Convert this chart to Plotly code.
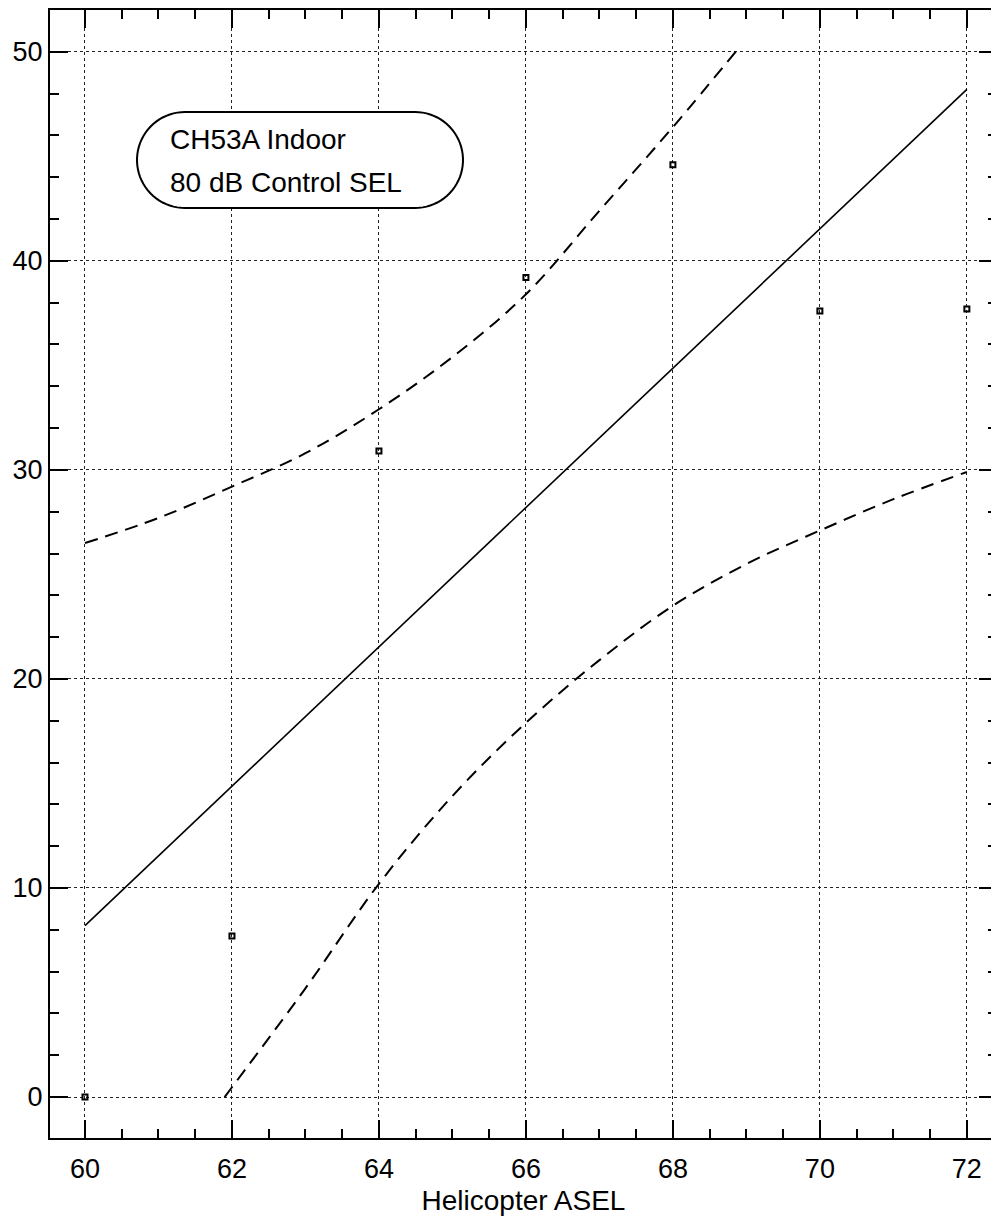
import numpy as np
import plotly.graph_objects as go

# Observed data points
asel = [60, 62, 64, 66, 68, 70, 72]
response = [0.0, 7.7, 30.9, 39.2, 44.6, 37.6, 37.7]

# Regression line
fit_x = [60, 72]
fit_y = [8.2, 48.2]

# Upper confidence band
upper_x = [60, 61, 62, 63, 64, 65, 66, 67, 68, 68.9]
upper_y = [26.5, 27.7, 29.2, 30.8, 32.9, 35.4, 38.4, 42.4, 46.4, 50.2]

# Lower confidence band
lower_x = [61.9, 63, 64, 65, 66, 67, 68, 69, 70, 71, 72]
lower_y = [0.0, 5.2, 10.2, 14.4, 17.9, 20.9, 23.5, 25.5, 27.1, 28.6, 29.9]

x_ticks = [60, 62, 64, 66, 68, 70, 72]
y_ticks = [0, 10, 20, 30, 40, 50]

label_lines = ["CH53A Indoor", "80 dB Control SEL"]
x_title = "Helicopter ASEL"

FONT = "Liberation Sans, Arial, sans-serif"

fig = go.Figure()
dash_style = "13px,8px"
fig.add_trace(go.Scatter(x=upper_x, y=upper_y, mode="lines",
                         line=dict(color="black", width=2, dash=dash_style, shape="spline"),
                         showlegend=False, hoverinfo="skip"))
fig.add_trace(go.Scatter(x=lower_x, y=lower_y, mode="lines",
                         line=dict(color="black", width=2, dash=dash_style, shape="spline"),
                         showlegend=False, hoverinfo="skip"))
fig.add_trace(go.Scatter(x=fit_x, y=fit_y, mode="lines",
                         line=dict(color="black", width=1.6),
                         showlegend=False))
fig.add_trace(go.Scatter(x=asel, y=response, mode="markers",
                         marker=dict(symbol="square-open", size=5, color="black",
                                     line=dict(width=2, color="black")),
                         showlegend=False))

W, H = 999, 1223
OFF = 8  # page body margin
# plot area in page pixels
PL, PR, PT, PB = 50, 997, 10, 1138
L = PL - OFF
T = PT - OFF
R = W - (PR - OFF)
B = H - (PB - OFF)
pw, ph = PR - PL, PB - PT

def to_paper(px, py):
    return (px - PL) / pw, (PB - py) / ph

# stadium-shaped label box (page pixel geometry -> paper)
left, right, top, bottom = 137, 463, 112, 208
r = (bottom - top) / 2
cy = (top + bottom) / 2
pts = []
for a in np.linspace(-np.pi / 2, np.pi / 2, 40):
    pts.append((right - r + r * np.cos(a), cy + r * np.sin(a)))
for a in np.linspace(np.pi / 2, 3 * np.pi / 2, 40):
    pts.append((left + r + r * np.cos(a), cy + r * np.sin(a)))
path = "M " + " L ".join(f"{to_paper(px, py)[0]:.5f},{to_paper(px, py)[1]:.5f}" for px, py in pts) + " Z"
fig.add_shape(type="path", path=path, xref="paper", yref="paper",
              line=dict(color="black", width=2), fillcolor="white", layer="above")

for txt, yc in zip(label_lines, [139, 182]):
    xp, yp = to_paper(168, yc)
    fig.add_annotation(x=xp, y=yp, xref="paper", yref="paper", text=txt,
                       showarrow=False, xanchor="left", yanchor="middle",
                       font=dict(family=FONT, size=28, color="black"))

axis_common = dict(
    showline=True, linecolor="black", linewidth=2, mirror="ticks",
    ticks="inside", ticklen=18, tickwidth=2, tickcolor="black",
    showgrid=True, gridcolor="#222", gridwidth=1, griddash="dot",
    zeroline=False, tickfont=dict(family=FONT, size=27, color="black"),
)

fig.update_xaxes(range=[59.524, 72.41], tickvals=x_ticks, **axis_common,
                 ticklabelstandoff=6,
                 minor=dict(dtick=0.5, tick0=60, ticks="inside", ticklen=9, tickwidth=2,
                            tickcolor="black", showgrid=False),
                 title=dict(text=x_title, font=dict(family=FONT, size=28, color="black"),
                            standoff=7),
                 automargin=False)
fig.update_yaxes(range=[-1.96, 52.0], tickvals=y_ticks, **axis_common,
                 minor=dict(dtick=2, tick0=0, ticks="inside", ticklen=9, tickwidth=2,
                            tickcolor="black", showgrid=False),
                 automargin=False)

fig.update_layout(width=W, height=H, margin=dict(l=L, r=R, t=T, b=B),
                  plot_bgcolor="white", paper_bgcolor="white", showlegend=False)

fig.write_html("out.html")
